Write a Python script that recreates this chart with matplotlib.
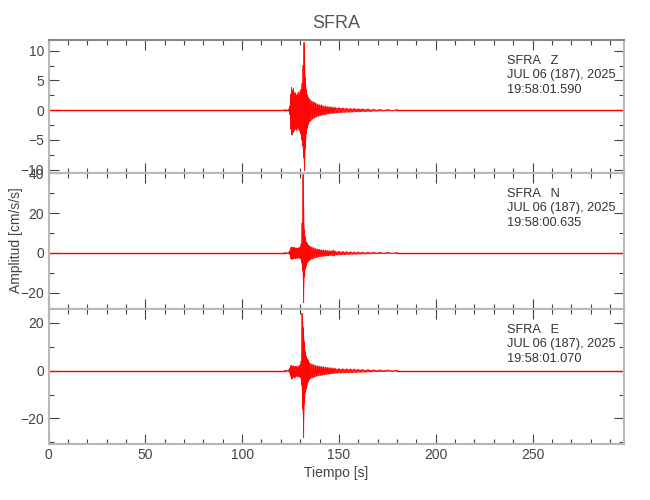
import matplotlib
matplotlib.use("Agg")
import matplotlib.pyplot as plt
import numpy as np
from matplotlib.ticker import MultipleLocator

plt.rcParams['font.family'] = ['Liberation Sans', 'DejaVu Sans']

# ---------------- data ----------------
station = "SFRA"
components = ["Z", "N", "E"]
date_label = "JUL 06 (187), 2025"
start_times = ["19:58:01.590", "19:58:00.635", "19:58:01.070"]
t_end = 297.0

# envelope sample times (s)
t_env = [122, 124, 124.5, 125, 125.5, 126, 126.5, 127, 127.5, 128, 128.5, 129, 129.5,
         130, 130.5, 131, 131.5, 132, 132.5, 133, 133.5, 134, 134.5, 135,
         136, 137, 138, 139, 140, 141, 142, 143, 144, 145, 146, 147, 148,
         150, 152, 154, 156, 158, 160, 162, 165, 168, 171, 175, 180]

z_up = [0.1, 0.15, 0.6, 2.6, 3.8, 3.2, 3.6, 2.8, 2.9, 2.5, 2.6, 3.0, 2.7,
        3.2, 3.5, 4.5, 7.5, 11.4, 5.5, 3.5, 2.6, 2.2, 1.9, 1.8,
        1.5, 1.4, 1.2, 1.0, 0.9, 0.9, 0.7, 0.7, 0.6, 0.6, 0.55, 0.5, 0.5,
        0.45, 0.4, 0.35, 0.3, 0.3, 0.25, 0.25, 0.2, 0.15, 0.12, 0.1, 0.08]
z_lo = [-0.1, -0.15, -0.8, -3.2, -4.2, -3.8, -3.5, -3.3, -3.0, -3.4, -2.8, -3.2, -3.5,
        -4.0, -5.0, -6.0, -8.0, -10.2, -6.5, -4.0, -3.0, -2.4, -2.0, -1.8,
        -1.5, -1.3, -1.1, -1.0, -0.9, -0.8, -0.7, -0.7, -0.6, -0.55, -0.5, -0.5, -0.45,
        -0.4, -0.35, -0.3, -0.3, -0.25, -0.25, -0.2, -0.2, -0.15, -0.12, -0.1, -0.08]

n_up = [0.2, 0.3, 1.0, 2.5, 3.0, 2.8, 2.6, 2.8, 2.4, 2.5, 2.2, 2.4, 2.8,
        3.0, 4.5, 15.0, 39.5, 12.0, 8.0, 5.5, 5.0, 4.0, 3.5, 3.5,
        3.0, 2.6, 2.2, 2.0, 1.8, 1.6, 1.5, 1.4, 1.3, 1.2, 1.1, 1.5, 1.0,
        0.9, 0.8, 0.7, 0.6, 0.55, 0.5, 0.45, 0.4, 0.35, 0.3, 0.25, 0.2]
n_lo = [-0.2, -0.3, -1.0, -2.8, -3.2, -3.0, -2.8, -2.5, -2.8, -2.4, -2.6, -2.3, -2.6,
        -3.0, -5.0, -9.0, -25.0, -12.0, -8.0, -6.5, -5.0, -4.0, -3.8, -3.2,
        -3.0, -2.5, -2.2, -2.0, -1.8, -1.6, -1.5, -1.4, -1.3, -1.2, -1.1, -1.5, -1.0,
        -0.9, -0.8, -0.7, -0.6, -0.55, -0.5, -0.45, -0.4, -0.35, -0.3, -0.25, -0.2]

e_up = [0.2, 0.3, 1.0, 2.0, 2.2, 1.8, 2.0, 1.6, 1.8, 1.7, 1.5, 1.8, 2.0,
        2.5, 4.0, 24.0, 18.0, 12.0, 8.0, 6.0, 5.0, 4.5, 3.5, 3.0,
        2.8, 2.5, 2.2, 2.0, 1.9, 1.8, 1.6, 1.5, 1.4, 1.3, 1.2, 1.1, 1.0,
        0.9, 0.85, 0.8, 0.75, 0.7, 0.6, 0.55, 0.5, 0.4, 0.35, 0.3, 0.2]
e_lo = [-0.2, -0.3, -1.2, -2.5, -3.5, -2.8, -2.5, -3.0, -2.4, -2.2, -2.5, -2.3, -2.6,
        -3.0, -6.0, -16.0, -28.0, -14.0, -9.0, -7.5, -6.0, -4.5, -3.8, -3.2,
        -3.0, -2.6, -2.3, -2.0, -1.9, -1.8, -1.6, -1.5, -1.4, -1.3, -1.2, -1.1, -1.0,
        -0.9, -0.85, -0.8, -0.75, -0.7, -0.6, -0.55, -0.5, -0.4, -0.35, -0.3, -0.2]

ylims = [(-10.5, 11.8), (-28.0, 40.5), (-30.7, 26.0)]
major_steps = [5, 20, 20]
minor_steps = [2.5, 10, 10]

# ---------------- figure ----------------
W, H = 650, 500
fig = plt.figure(figsize=(W / 100, H / 100), dpi=100)
left_px, right_px = 48.5, 623.5
bounds = [(40, 172.5), (172.5, 308.5), (308.5, 444)]

ups = [z_up, n_up, e_up]
los = [z_lo, n_lo, e_lo]
tc = '#444444'
spc = '#b8b8b8'
red = '#ff0000'

axes = []
for i in range(3):
    top, bot = bounds[i]
    ax = fig.add_axes([left_px / W, 1 - bot / H, (right_px - left_px) / W, (bot - top) / H])
    axes.append(ax)
    t = np.array(t_env, dtype=float)
    up = np.array(ups[i]); lo = np.array(los[i])
    # zig-zag trace through the read envelope
    mids = np.append((t[:-1] + t[1:]) / 2, t[-1] + 0.5)
    xs = np.empty(2 * len(t)); ys = np.empty(2 * len(t))
    xs[0::2] = t; xs[1::2] = mids
    ys[0::2] = up; ys[1::2] = lo
    ax.fill_between(t, lo, up, color=red, lw=0, alpha=0.8)
    ax.plot(xs, ys, color=red, lw=0.7, alpha=0.9)
    ax.plot([0, t[0]], [0, 0], color=red, lw=1.0)
    ax.plot([t[-1], t_end], [0, 0], color=red, lw=1.0)

    ax.set_xlim(0, t_end)
    ax.set_ylim(*ylims[i])
    ax.xaxis.set_major_locator(MultipleLocator(50))
    ax.xaxis.set_minor_locator(MultipleLocator(10))
    ax.yaxis.set_major_locator(MultipleLocator(major_steps[i]))
    ax.yaxis.set_minor_locator(MultipleLocator(minor_steps[i]))
    ax.tick_params(which='both', direction='in', top=True, right=True, color=tc,
                   labelcolor=tc, labelsize=10, width=0.8)
    ax.tick_params(which='major', length=7.2, pad=3)
    ax.tick_params(which='minor', length=3.6)
    for s in ax.spines.values():
        s.set_color(spc); s.set_linewidth(1.5)
    if i == 0:
        ax.spines['top'].set_color('#888888')
    if i < 2:
        ax.tick_params(labelbottom=False)
    ax.text(0.797, 0.885, f"{station}   {components[i]}\n{date_label}\n{start_times[i]}",
            transform=ax.transAxes, ha='left', va='top', fontsize=9.2,
            color='#333333', linespacing=1.25)

axes[0].set_title(station, fontsize=13, color='#555555', pad=9)
axes[2].set_xlabel("Tiempo [s]", fontsize=10, color=tc, labelpad=3)
fig.text(16 / W, 1 - 240 / H, "Amplitud [cm/s/s]", rotation=90, ha='center', va='center',
         fontsize=10, color=tc)

fig.savefig("out.png", dpi=100)
